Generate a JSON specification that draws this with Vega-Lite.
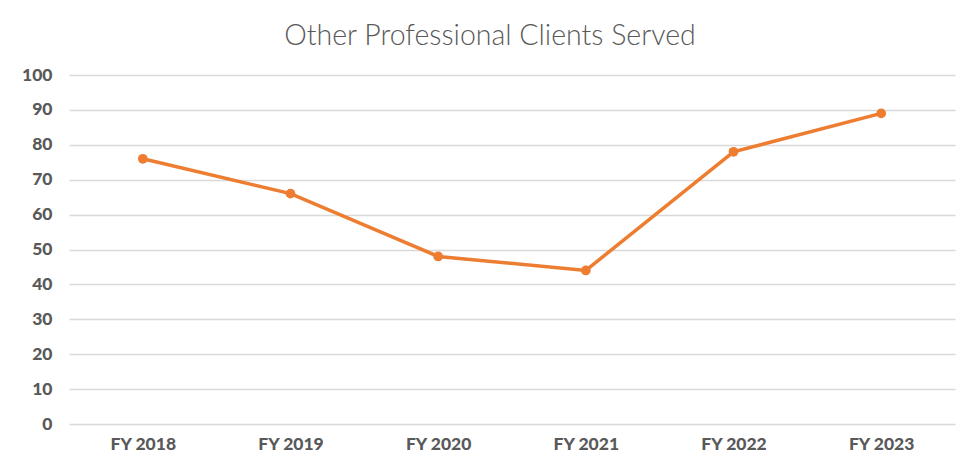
{
  "$schema": "https://vega.github.io/schema/vega-lite/v6.json",
  "width": 886,
  "height": 349,
  "autosize": "none",
  "padding": {"left": 69, "top": 75, "right": 11, "bottom": 45},
  "background": "white",
  "title": {
    "text": "Other Professional Clients Served",
    "font": "Lato",
    "fontWeight": 300,
    "fontSize": 28.5,
    "color": "#595959",
    "anchor": "middle",
    "dx": -22,
    "offset": 16
  },
  "data": {
    "values": [
      {"year": "FY 2018", "value": 76},
      {"year": "FY 2019", "value": 66},
      {"year": "FY 2020", "value": 48},
      {"year": "FY 2021", "value": 44},
      {"year": "FY 2022", "value": 78},
      {"year": "FY 2023", "value": 89}
    ]
  },
  "mark": {"type": "line", "color": "#ED7D31", "strokeWidth": 3.5, "point": {"filled": true, "size": 95, "color": "#ED7D31"}},
  "encoding": {
    "x": {
      "field": "year",
      "type": "ordinal",
      "scale": {"paddingInner": 0, "paddingOuter": 0.5},
      "axis": {
        "title": null,
        "labelAngle": 0,
        "labelFont": "Lato",
        "labelFontWeight": 900,
        "labelFontSize": 17.5,
        "labelColor": "#595959",
        "labelPadding": 11,
        "ticks": false,
        "domain": false,
        "grid": false
      }
    },
    "y": {
      "field": "value",
      "type": "quantitative",
      "scale": {"domain": [0, 100], "nice": false},
      "axis": {
        "title": null,
        "values": [0, 10, 20, 30, 40, 50, 60, 70, 80, 90, 100],
        "labelFont": "Lato",
        "labelFontWeight": 900,
        "labelFontSize": 17.5,
        "labelColor": "#595959",
        "labelPadding": 17,
        "ticks": false,
        "domain": false,
        "grid": true,
        "gridColor": "#D9D9D9",
        "gridWidth": 1.3
      }
    }
  },
  "config": {"view": {"stroke": null}}
}
